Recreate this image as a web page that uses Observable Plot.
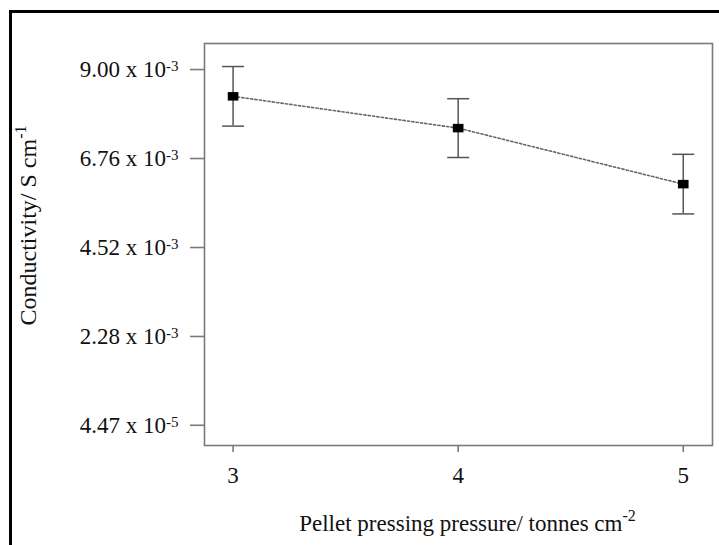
<!DOCTYPE html>
<html><head><meta charset="utf-8">
<script src="https://cdn.jsdelivr.net/npm/d3@7"></script>
<script src="https://cdn.jsdelivr.net/npm/@observablehq/plot@0.6"></script>
<style>
body{margin:0;background:#fff;}
#wrap{position:relative;width:719px;height:545px;overflow:hidden;background:#fff;}
#border{position:absolute;left:9px;top:10px;width:800px;height:600px;border-left:3px solid #000;border-top:3px solid #000;}
#chart{position:absolute;left:0;top:0;}
</style></head><body>
<div id="wrap"><div id="chart"></div><div id="border"></div></div>
<script>
const pressure = [3, 4, 5];
const conductivity = [8.25e-3, 7.45e-3, 6.04e-3];
const errorBar = [0.75e-3, 0.74e-3, 0.75e-3];
const xTicks = [3, 4, 5];
const yTicks = [9.00e-3, 6.76e-3, 4.52e-3, 2.28e-3, 4.47e-5];
const yTickMantissa = ["9.00", "6.76", "4.52", "2.28", "4.47"];
const yTickExponent = ["-3", "-3", "-3", "-3", "-5"];
const xLabel = ["Pellet pressing pressure/ tonnes cm", "-2"];
const yLabel = ["Conductivity/ S cm", "-1"];

const rows = pressure.map((p, i) => ({
  p, c: conductivity[i], lo: conductivity[i] - errorBar[i], hi: conductivity[i] + errorBar[i]
}));

const rectSymbol = {draw(ctx, size) { const s = Math.sqrt(size); const w = s * 0.5, h = s * 0.4; ctx.rect(-w, -h, 2 * w, 2 * h); }};
const capSymbol = {draw(ctx, size) { ctx.moveTo(-11, 0); ctx.lineTo(11, 0); }};

const axisColor = "#7a7a7a";
const errColor = "#555";

const chart = Plot.plot({
  width: 719, height: 545,
  marginLeft: 204, marginRight: 7, marginTop: 43, marginBottom: 100,
  x: {domain: [2.873, 5.13]},
  y: {domain: [-0.54e-3, 9.58e-3]},
  style: {fontFamily: "'Liberation Serif', 'Times New Roman', serif", fontSize: "23px", color: "#111", background: "transparent"},
  marks: [
    Plot.axisY(yTicks, {tickSize: 14, tickPadding: 12, stroke: axisColor, strokeWidth: 1.6, dy: 3,
      tickFormat: d => yTickMantissa[yTicks.indexOf(d)] + " x 10", fontSize: 23, fill: "#111", label: null}),
    Plot.axisX(xTicks, {tickSize: 7, tickPadding: 14, stroke: axisColor, strokeWidth: 1.6,
      tickFormat: d => String(d), fontSize: 23, fill: "#111", label: null}),
    Plot.frame({stroke: axisColor, strokeWidth: 1.6}),
    Plot.line(rows, {x: "p", y: "c", stroke: "#666", strokeWidth: 1.6, strokeDasharray: "2.2,2.2"}),
    Plot.ruleX(rows, {x: "p", y1: "lo", y2: "hi", stroke: errColor, strokeWidth: 1.5}),
    Plot.dot(rows, {x: "p", y: "lo", symbol: capSymbol, r: 6, stroke: errColor, strokeWidth: 1.5, fill: "none"}),
    Plot.dot(rows, {x: "p", y: "hi", symbol: capSymbol, r: 6, stroke: errColor, strokeWidth: 1.5, fill: "none"}),
    Plot.dot(rows, {x: "p", y: "c", symbol: rectSymbol, r: 6, fill: "#000", stroke: "none"}),
    Plot.text([xLabel[0]], {text: d => d, frameAnchor: "bottom", textAnchor: "middle", dx: 9, dy: 78.3, lineAnchor: "middle",
      fontSize: 23, fill: "#111"}),
    Plot.text([yLabel[0]], {text: d => d, frameAnchor: "left", textAnchor: "middle", rotate: -90, dx: -176.4, dy: -19, lineAnchor: "middle",
      fontSize: 24, fill: "#111"})
  ]
});
document.getElementById("chart").appendChild(chart);

const svgNS = "http://www.w3.org/2000/svg";
function addSup(textEl, str, size, shift) {
  const t = document.createElementNS(svgNS, "tspan");
  t.setAttribute("font-size", size);
  t.setAttribute("dy", -shift);
  t.textContent = str;
  textEl.appendChild(t);
}
chart.querySelectorAll('g[aria-label="y-axis tick label"] text').forEach(el => {
  const i = yTickMantissa.findIndex(m => el.textContent.startsWith(m));
  if (i >= 0) addSup(el, yTickExponent[i], 15, 6);
});
chart.querySelectorAll('text').forEach(el => {
  if (el.textContent === xLabel[0]) addSup(el, xLabel[1], 16, 10);
  else if (el.textContent === yLabel[0]) addSup(el, yLabel[1], 16, 10);
});
</script>
</body></html>
